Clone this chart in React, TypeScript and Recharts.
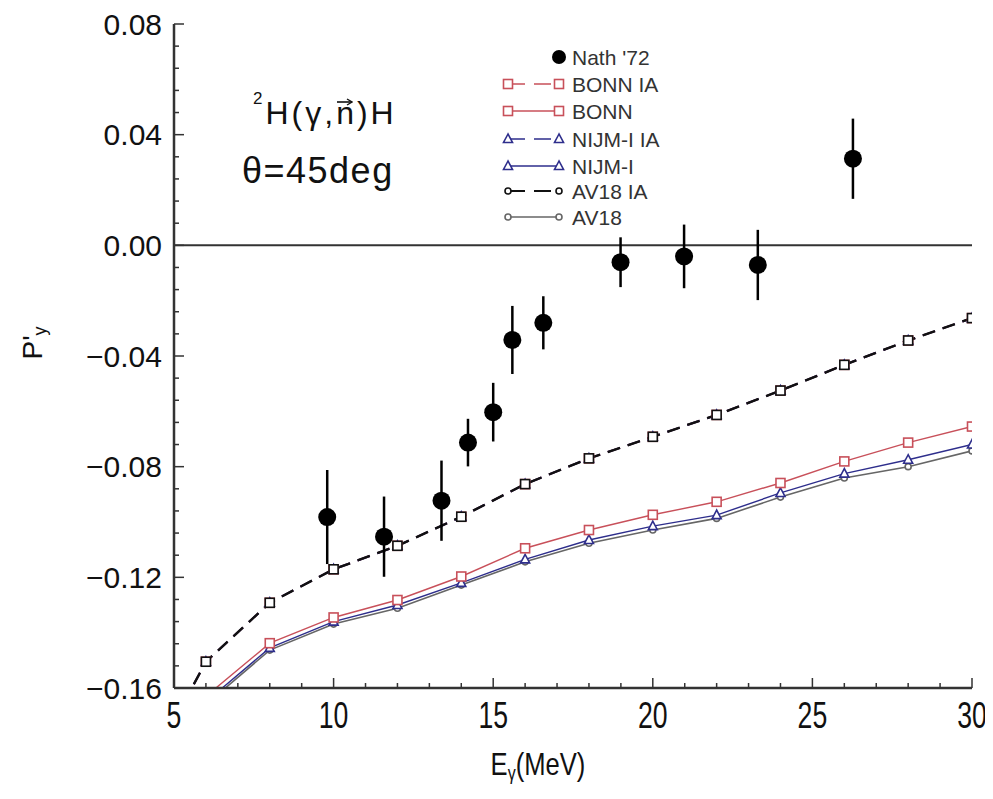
import React from "react";
import {
  ComposedChart,
  Line,
  Scatter,
  ErrorBar,
  XAxis,
  YAxis,
  ReferenceLine,
} from "recharts";

// theory curves: energies (MeV)
const energyIA = [5, 6, 8, 10, 12, 14, 16, 18, 20, 22, 24, 26, 28, 30];
const energyFull = [6, 8, 10, 12, 14, 16, 18, 20, 22, 24, 26, 28, 30];

// impulse approximation curves (they sit on top of each other)
const bonnIA = [-0.172, -0.1505, -0.1292, -0.1171, -0.1086, -0.0981, -0.0863, -0.077, -0.0692, -0.0613, -0.0525, -0.0432, -0.0344, -0.0263];
const nijmIA = [-0.172, -0.1505, -0.1292, -0.1171, -0.1086, -0.0981, -0.0863, -0.077, -0.0692, -0.0613, -0.0525, -0.0432, -0.0344, -0.0263];
const av18IA = [-0.172, -0.1505, -0.1292, -0.1171, -0.1086, -0.0981, -0.0863, -0.077, -0.0692, -0.0613, -0.0525, -0.0432, -0.0344, -0.0263];

// full calculations
const bonn = [-0.163, -0.1438, -0.1345, -0.1282, -0.1197, -0.1095, -0.1029, -0.0974, -0.0927, -0.0859, -0.0781, -0.0713, -0.0655];
const nijm = [-0.165, -0.1455, -0.136, -0.130, -0.122, -0.1135, -0.1065, -0.1015, -0.0975, -0.0895, -0.0825, -0.0775, -0.072];
const av18 = [-0.166, -0.1463, -0.1369, -0.1312, -0.1228, -0.1144, -0.1077, -0.1029, -0.0987, -0.091, -0.0841, -0.080, -0.0743];

// Nath '72 data
const nathE = [9.8, 11.58, 13.38, 14.21, 15.0, 15.6, 16.57, 18.99, 20.98, 23.29, 26.27];
const nathP = [-0.0982, -0.1053, -0.0923, -0.0713, -0.0603, -0.0342, -0.028, -0.0061, -0.004, -0.0071, 0.0313];
const nathErr = [0.017, 0.0145, 0.0145, 0.0086, 0.0106, 0.0123, 0.0096, 0.009, 0.0115, 0.0127, 0.0145];

// axes
const xMajor = [5, 10, 15, 20, 25, 30];
const xLabels = ["5", "10", "15", "20", "25", "30"];
const yMajor = [-0.16, -0.12, -0.08, -0.04, 0, 0.04, 0.08];
const yLabels = ["\u22120.16", "\u22120.12", "\u22120.08", "\u22120.04", "0.00", "0.04", "0.08"];

const xTicks = Array.from({ length: 26 }, (_, i) => 5 + i);
const yTicks = Array.from({ length: 31 }, (_, i) => Math.round((-0.16 + i * 0.008) * 1000) / 1000);

const RED = "#c8505a";
const BLUE = "#2e2e8c";
const BLACK = "#111";
const GRAY = "#666";
const AXIS = "#333";
const FONT = "'Liberation Sans', Arial, sans-serif";

const toRows = (xs: number[], ys: number[]) => xs.map((e, i) => ({ e, p: ys[i] }));
const nathRows = nathE.map((e, i) => ({ e, p: nathP[i], err: nathErr[i] }));

const yIndex = (v: number) => yMajor.findIndex((m) => Math.abs(m - v) < 1e-6);
const xIndex = (v: number) => xMajor.findIndex((m) => Math.abs(m - v) < 1e-6);

function LeftTick(props: any) {
  const { x, y, payload } = props;
  const ax = x + 12;
  const i = yIndex(payload.value);
  return (
    <g>
      <line x1={ax} x2={ax + (i >= 0 ? 10 : 5)} y1={y} y2={y} stroke={AXIS} strokeWidth={1.5} />
      {i >= 0 && (
        <text x={x} y={y} textAnchor="end" dominantBaseline="central" fontSize={30} fontFamily={FONT} fill="#111">
          {yLabels[i]}
        </text>
      )}
    </g>
  );
}

function RightTick(props: any) {
  const { x, y, payload } = props;
  const i = yIndex(payload.value);
  return <line x1={x - (i >= 0 ? 10 : 5)} x2={x} y1={y} y2={y} stroke={AXIS} strokeWidth={1.5} />;
}

function BottomTick(props: any) {
  const { x, y, payload } = props;
  const i = xIndex(payload.value);
  return (
    <g>
      <line x1={x} x2={x} y1={y} y2={y - (i >= 0 ? 10 : 5)} stroke={AXIS} strokeWidth={1.5} />
      {i >= 0 && (
        <text
          transform={`translate(${x},${y + 27}) scale(0.72,1)`}
          textAnchor="middle"
          dominantBaseline="central"
          fontSize={37}
          fontFamily={FONT}
          fill="#111"
        >
          {xLabels[i]}
        </text>
      )}
    </g>
  );
}

function TopTick(props: any) {
  const { x, y, payload } = props;
  const i = xIndex(payload.value);
  return <line x1={x} x2={x} y1={y} y2={y + (i >= 0 ? 10 : 5)} stroke={AXIS} strokeWidth={1.5} />;
}

const square = (c: string) => (p: any) => (
  <rect key={p.index} x={p.cx - 4.5} y={p.cy - 4.5} width={9} height={9} fill="#fff" stroke={c} strokeWidth={1.6} />
);
const triangle = (c: string) => (p: any) => (
  <polygon key={p.index} points={`${p.cx},${p.cy - 5} ${p.cx - 4.5},${p.cy + 3.5} ${p.cx + 4.5},${p.cy + 3.5}`} fill="#fff" stroke={c} strokeWidth={1.6} />
);
const ring = (c: string) => (p: any) => (
  <circle key={p.index} cx={p.cx} cy={p.cy} r={3} fill="#fff" stroke={c} strokeWidth={1.6} />
);

const legendRows = [
  { name: "Nath '72", kind: "data", color: "#000", dash: false, marker: "dot" },
  { name: "BONN IA", kind: "line", color: RED, dash: true, marker: "square" },
  { name: "BONN", kind: "line", color: RED, dash: false, marker: "square" },
  { name: "NIJM-I IA", kind: "line", color: BLUE, dash: true, marker: "triangle" },
  { name: "NIJM-I", kind: "line", color: BLUE, dash: false, marker: "triangle" },
  { name: "AV18 IA", kind: "line", color: BLACK, dash: true, marker: "ring" },
  { name: "AV18", kind: "line", color: GRAY, dash: false, marker: "ring" },
];
const legendY = [49, 76, 103, 131, 158, 183, 209];

function LegendMarker({ m, cx, cy, c }: { m: string; cx: number; cy: number; c: string }) {
  const p = { cx, cy, index: 0 };
  if (m === "square") return square(c)(p);
  if (m === "triangle") return triangle(c)(p);
  return ring(c)(p);
}

export default function App() {
  const W = 985;
  const H = 783;
  return (
    <div style={{ position: "relative", width: W, height: H }}>
      <ComposedChart width={W} height={H} margin={{ top: 16, right: 21, bottom: 13, left: 86 }}>
        <XAxis
          dataKey="e"
          type="number"
          domain={[5, 30]}
          allowDataOverflow
          ticks={xTicks}
          interval={0}
          tick={<BottomTick />}
          tickSize={0}
          tickMargin={0}
          height={90}
          axisLine={{ stroke: AXIS, strokeWidth: 2.5 }}
          tickLine={false}
        />
        <XAxis
          xAxisId="t"
          orientation="top"
          type="number"
          domain={[5, 30]}
          allowDataOverflow
          ticks={xTicks}
          interval={0}
          tick={<TopTick />}
          tickSize={0}
          tickMargin={0}
          height={0}
          axisLine={{ stroke: AXIS, strokeWidth: 2.5 }}
          tickLine={false}
        />
        <YAxis
          type="number"
          domain={[-0.16, 0.08]}
          allowDataOverflow
          ticks={yTicks}
          interval={0}
          tick={<LeftTick />}
          tickSize={0}
          tickMargin={12}
          width={80}
          axisLine={{ stroke: AXIS, strokeWidth: 2.5 }}
          tickLine={false}
        />
        <YAxis
          yAxisId="r"
          orientation="right"
          type="number"
          domain={[-0.16, 0.08]}
          allowDataOverflow
          ticks={yTicks}
          interval={0}
          tick={<RightTick />}
          tickSize={0}
          tickMargin={0}
          width={0}
          axisLine={{ stroke: AXIS, strokeWidth: 2.5 }}
          tickLine={false}
        />
        <ReferenceLine y={0} stroke={AXIS} strokeWidth={2} />

        <Line data={toRows(energyFull, av18)} dataKey="p" type="linear" stroke={GRAY} strokeWidth={1.6} dot={ring(GRAY)} isAnimationActive={false} />
        <Line data={toRows(energyFull, nijm)} dataKey="p" type="linear" stroke={BLUE} strokeWidth={1.4} dot={triangle(BLUE)} isAnimationActive={false} />
        <Line data={toRows(energyFull, bonn)} dataKey="p" type="linear" stroke={RED} strokeWidth={1.4} dot={square(RED)} isAnimationActive={false} />

        <Line data={toRows(energyIA, bonnIA)} dataKey="p" type="linear" stroke={RED} strokeWidth={2} strokeDasharray="13 8" dot={square(RED)} isAnimationActive={false} />
        <Line data={toRows(energyIA, nijmIA)} dataKey="p" type="linear" stroke={BLUE} strokeWidth={2} strokeDasharray="13 8" dot={triangle(BLUE)} isAnimationActive={false} />
        <Line data={toRows(energyIA, av18IA)} dataKey="p" type="linear" stroke={BLACK} strokeWidth={2.4} strokeDasharray="13 8" dot={square(BLACK)} isAnimationActive={false} />

        <Scatter
          data={nathRows}
          dataKey="p"
          isAnimationActive={false}
          shape={(p: any) => <circle cx={p.cx} cy={p.cy} r={9} fill="#000" />}
        >
          <ErrorBar dataKey="err" direction="y" width={0} stroke="#000" strokeWidth={2.5} />
        </Scatter>
      </ComposedChart>

      <svg width={W} height={H} style={{ position: "absolute", left: 0, top: 0, pointerEvents: "none" }}>
        {legendRows.map((r, i) => {
          const cy = legendY[i];
          return (
            <g key={r.name}>
              {r.kind === "data" ? (
                <circle cx={551} cy={cy} r={7} fill="#000" />
              ) : (
                <>
                  <line x1={500} x2={551} y1={cy} y2={cy} stroke={r.color} strokeWidth={r.color === BLACK ? 2 : 1.5} strokeDasharray={r.dash ? "17 9" : undefined} />
                  <LegendMarker m={r.marker} cx={500} cy={cy} c={r.color} />
                  <LegendMarker m={r.marker} cx={551} cy={cy} c={r.color} />
                </>
              )}
              <text x={564} y={cy} dominantBaseline="central" fontSize={21} fontFamily={FONT} fill="#333">
                {r.name}
              </text>
            </g>
          );
        })}

        <text x={234} y={175} fontSize={36} letterSpacing={1.5} fontFamily={FONT} fill="#111">
          θ=45deg
        </text>

        <text
          transform="translate(530,756) scale(0.8,1)"
          textAnchor="middle"
          fontSize={32}
          fontFamily={FONT}
          fill="#111"
          dominantBaseline="central"
        >
          E<tspan fontSize={20} dy={9}>γ</tspan>
          <tspan dy={-9}>(MeV)</tspan>
        </text>
        <text
          transform="translate(24,335) rotate(-90)"
          textAnchor="middle"
          fontSize={28}
          fontFamily={FONT}
          fill="#111"
          dominantBaseline="central"
        >
          P'<tspan fontSize={18} dy={8}>y</tspan>
        </text>
      </svg>

      <div
        style={{
          position: "absolute",
          left: 245,
          top: 89,
          fontSize: 32,
          lineHeight: "32px",
          letterSpacing: 3,
          fontFamily: FONT,
          color: "#111",
          whiteSpace: "nowrap",
        }}
      >
        <span style={{ fontSize: 17, position: "relative", top: -20 }}>2</span>
        H(γ,
        <span style={{ position: "relative", display: "inline-block" }}>
          n
          <svg width={16} height={8} style={{ position: "absolute", left: 1, top: 1 }}>
            <line x1={0} x2={15} y1={4} y2={4} stroke="#111" strokeWidth={1.6} />
            <path d="M10,1 L15,4 L10,7" fill="none" stroke="#111" strokeWidth={1.4} />
          </svg>
        </span>
        )H
      </div>
    </div>
  );
}
